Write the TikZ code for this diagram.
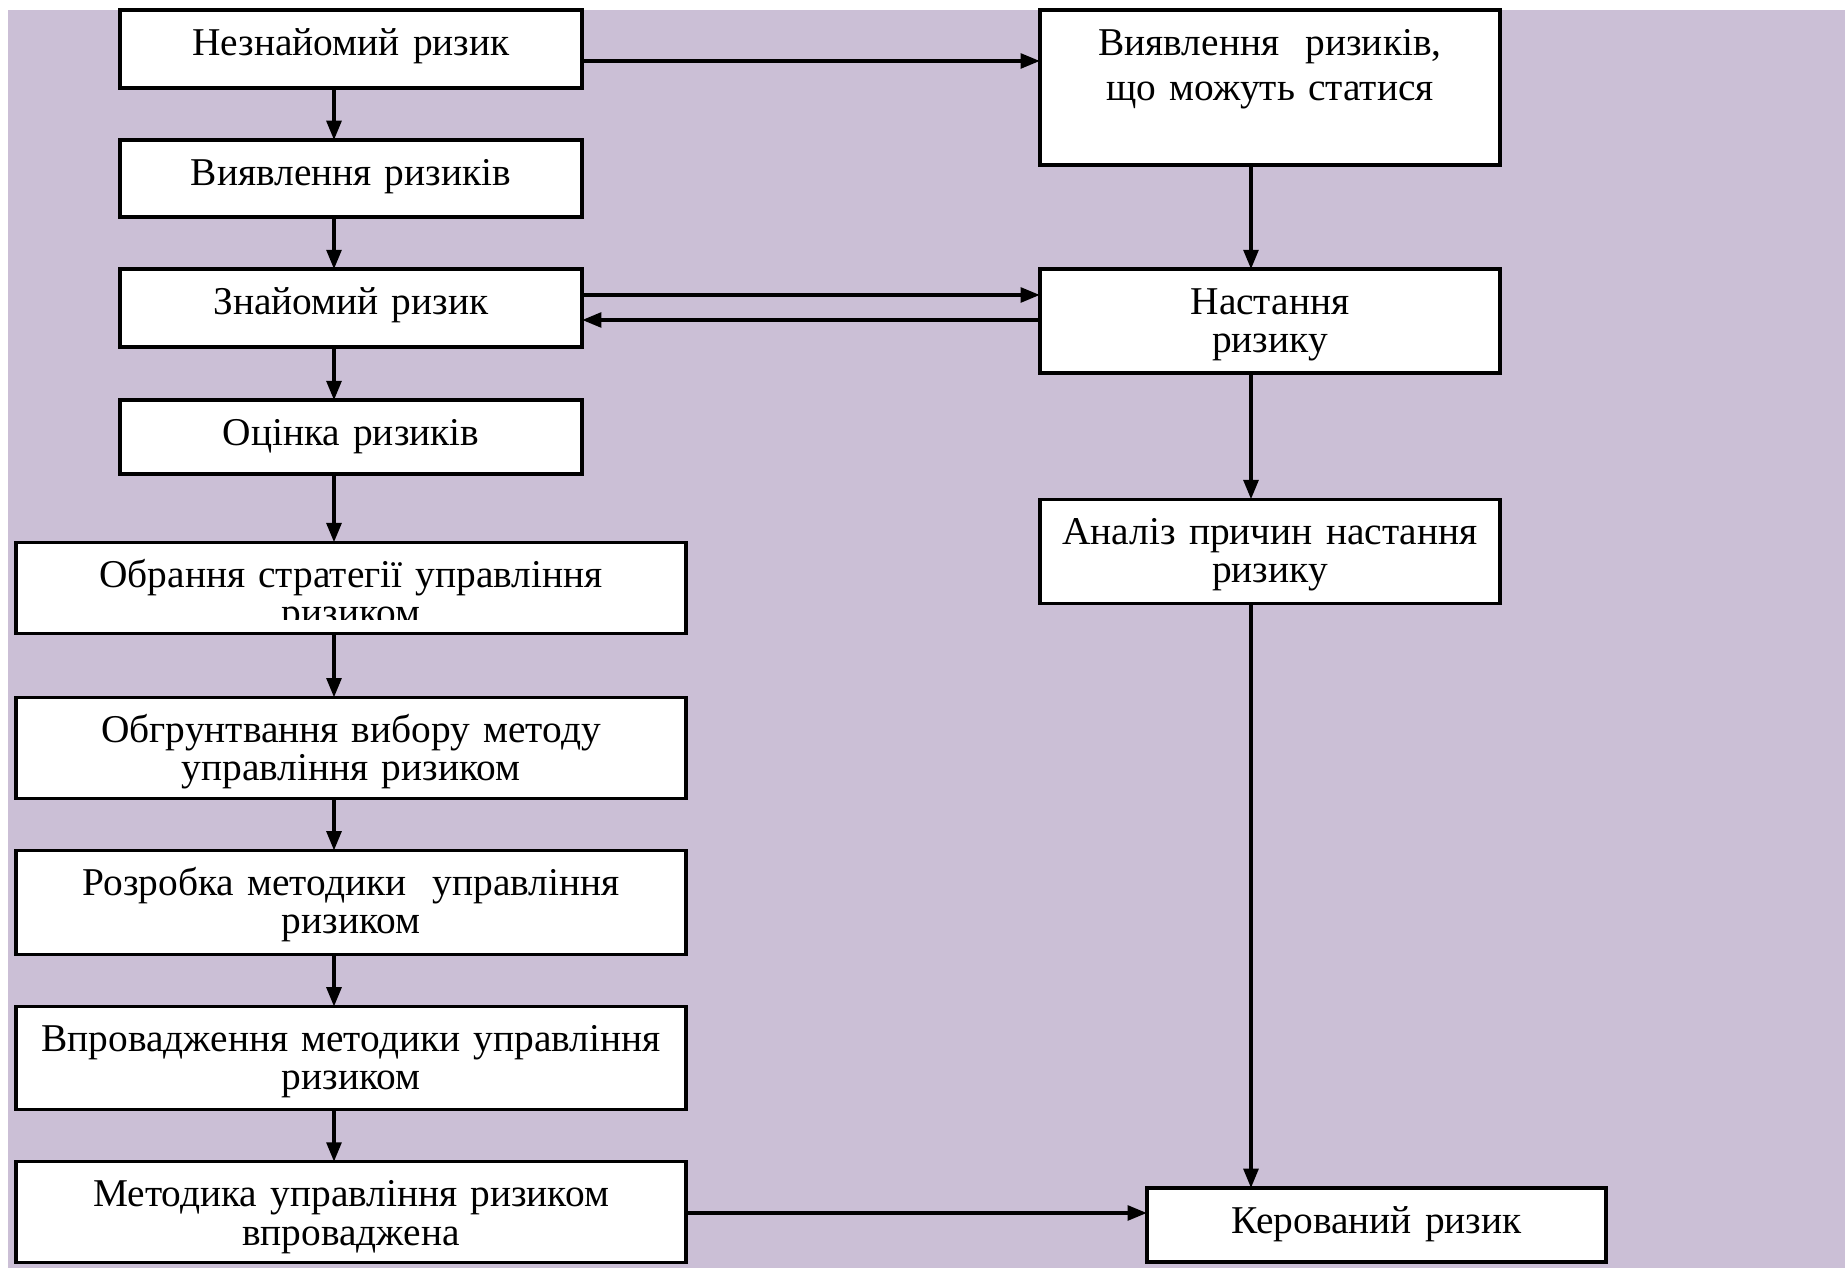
\documentclass[tikz,border=0pt]{standalone}
\usepackage{fontspec}
\setmainfont{Liberation Serif}
\usetikzlibrary{arrows.meta}
\usetikzlibrary{positioning}

\definecolor{fon}{RGB}{203,191,214}

\tikzset{
  blok/.style={draw, fill=white, line width=1pt, inner sep=0pt, outer sep=0pt,
    align=center, text height=0.45cm, font=\fontsize{11.2pt}{10.9pt}\selectfont},
  vuzkyj/.style={text width=4.62cm},
  shyrokyj/.style={text width=6.70cm},
  pravyj/.style={text width=4.60cm},
  strilka/.style={line width=1pt, -{Triangle[length=5.5pt,width=4.2pt]}}
}

\begin{document}
\begin{tikzpicture}[x=0.01cm, y=-0.01cm]
  \useasboundingbox (0,0) rectangle (1845,1268);
  \fill[fon] (8,10) rectangle (1845,1268);

  % left column
  \node[blok, vuzkyj, anchor=north, text depth=0.33cm] (nez) at (351,10) {Незнайомий ризик};
  \node[blok, vuzkyj, text depth=0.32cm, below=0.52cm of nez] (vyyav) {Виявлення ризиків};
  \node[blok, vuzkyj, text depth=0.33cm, below=0.52cm of vyyav] (znay) {Знайомий ризик};
  \node[blok, vuzkyj, text depth=0.29cm, below=0.53cm of znay] (otsin) {Оцінка ризиків};
  \node[blok, shyrokyj, text depth=0.46cm, below=0.68cm of otsin] (obran) {Обрання стратегії управління\\ризиком};
  \node[blok, shyrokyj, text depth=0.56cm, below=0.64cm of obran] (obgr) {Обгрунтвання вибору методу\\управління ризиком};
  \node[blok, shyrokyj, text depth=0.59cm, below=0.52cm of obgr] (rozr) {Розробка методики\ \ управління\\ризиком};
  \node[blok, shyrokyj, text depth=0.58cm, below=0.52cm of rozr] (vpr) {Впровадження методики управління\\ризиком};
  \node[blok, shyrokyj, text depth=0.56cm, below=0.52cm of vpr] (metod) {Методика управління ризиком\\впроваджена};

  % right column
  \node[blok, pravyj, anchor=north, text depth=1.10cm] (vyyst) at (1270,10) {Виявлення\ \ ризиків,\\[2pt]що можуть статися};
  \node[blok, pravyj, text depth=0.59cm, below=1.04cm of vyyst] (nast) {Настання\\ризику};
  \node[blok, pravyj, text depth=0.59cm, below=1.26cm of nast] (analiz) {Аналіз причин настання\\ризику};
  \node[blok, text width=4.59cm, anchor=north, text depth=0.29cm] (kerov) at (1376.5,1188) {Керований ризик};

  % cut-off line
  \fill[white] (230,620) rectangle (480,632.5);

  \coordinate (lx) at (334,0);
  \coordinate (px) at (1251,0);
  \coordinate (y1) at (0,61);
  \coordinate (y2) at (0,295);
  \coordinate (y3) at (0,320);
  \coordinate (y4) at (0,1213);

  \foreach \a/\b in {nez/vyyav, vyyav/znay, znay/otsin, otsin/obran, obran/obgr, obgr/rozr, rozr/vpr, vpr/metod}
    \draw[strilka] (\a.south -| lx) -- (\b.north -| lx);

  \draw[strilka] (vyyst.south -| px) -- (nast.north -| px);
  \draw[strilka] (nast.south -| px) -- (analiz.north -| px);
  \draw[strilka] (analiz.south -| px) -- (kerov.north -| px);

  \draw[strilka] (nez.east |- y1) -- (vyyst.west |- y1);
  \draw[strilka] (znay.east |- y2) -- (nast.west |- y2);
  \draw[strilka] (nast.west |- y3) -- (znay.east |- y3);
  \draw[strilka] (metod.east |- y4) -- (kerov.west |- y4);
\end{tikzpicture}
\end{document}
